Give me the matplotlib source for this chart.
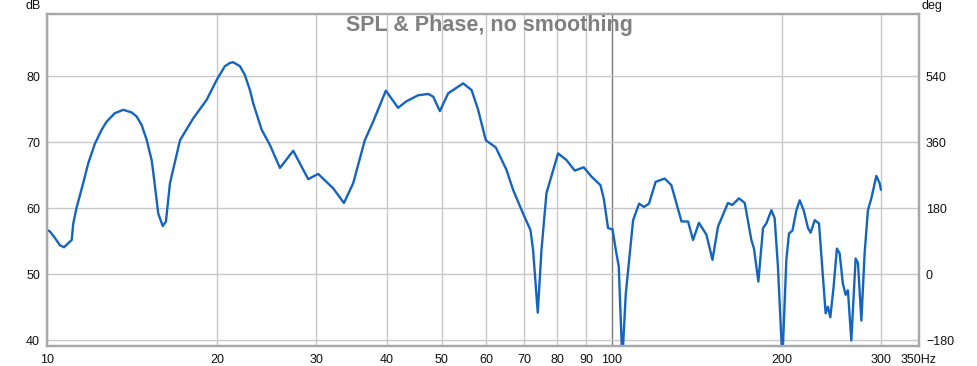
import numpy as np
import matplotlib
matplotlib.use("Agg")
import matplotlib.pyplot as plt
from matplotlib.ticker import FixedLocator, FixedFormatter, NullLocator

# SPL trace (Hz, dB)
freq = [10.0, 10.12, 10.33, 10.54, 10.72, 10.9, 11.06, 11.13, 11.29, 11.59,
        11.83, 12.16, 12.5, 12.75, 13.19, 13.65, 14.12, 14.41, 14.71, 15.02,
        15.32, 15.43, 15.74, 16.03, 16.24, 16.51, 17.20, 18.15, 19.17, 19.97,
        20.65, 21.09, 21.37, 21.96, 22.40, 22.87, 23.18, 23.99, 24.81, 25.85,
        27.29, 29.01, 30.21, 32.13, 33.56, 34.85, 36.54, 37.80, 39.81, 41.85,
        43.31, 45.41, 47.31, 48.28, 49.62, 51.33, 54.56, 56.46, 58.00, 59.84,
        62.33, 65.11, 66.88, 69.66, 71.79, 72.56, 73.96, 75.09, 76.63, 80.35,
        83.14, 86.00, 89.21, 92.06, 95.50, 96.78, 98.51, 100.3, 101.9, 102.9,
        104.4, 105.9, 109.1, 111.8, 114.0, 116.4, 119.6, 124.1, 127.5, 132.9,
        136.5, 139.3, 142.7, 147.1, 150.8, 154.2, 160.6, 163.5, 168.0, 172.0,
        176.7, 178.6, 181.8, 185.3, 187.8, 191.7, 194.3, 196.9, 200.5, 203.8,
        206.0, 208.9, 212.3, 215.2, 218.7, 222.6, 225.0, 228.8, 232.8, 239.2,
        241.4, 243.8, 247.1, 250.4, 253.2, 256.6, 259.5, 261.9, 265.6, 270.3,
        272.9, 276.7, 280.4, 284.2, 288.2, 294.1, 298.1, 299.7]
spl = [56.7, 56.5, 55.5, 54.4, 54.1, 54.7, 55.2, 57.7, 60.2, 63.8,
       66.8, 69.8, 71.9, 73.1, 74.4, 74.9, 74.5, 73.9, 72.6, 70.3,
       67.3, 65.3, 59.2, 57.3, 58.0, 63.8, 70.3, 73.6, 76.4, 79.4,
       81.5, 82.0, 82.1, 81.5, 80.2, 77.9, 75.9, 71.9, 69.6, 66.1,
       68.7, 64.4, 65.2, 63.0, 60.8, 63.8, 70.3, 73.1, 77.8, 75.2,
       76.2, 77.1, 77.3, 76.9, 74.7, 77.4, 78.9, 77.9, 74.9, 70.3,
       69.2, 65.8, 62.8, 59.2, 56.7, 53.7, 44.2, 53.7, 62.3, 68.3,
       67.3, 65.7, 66.2, 64.8, 63.5, 61.5, 57.0, 56.8, 53.2, 51.2,
       37.0, 47.1, 58.2, 60.7, 60.2, 60.7, 64.0, 64.5, 63.5, 58.0,
       58.0, 55.2, 57.8, 56.0, 52.2, 57.2, 60.8, 60.5, 61.5, 60.8,
       55.2, 53.9, 48.9, 57.0, 57.7, 59.7, 58.5, 51.2, 37.0, 52.2,
       56.2, 56.6, 59.7, 61.2, 59.7, 57.0, 56.3, 58.2, 57.7, 44.1,
       45.1, 43.5, 48.1, 53.9, 53.2, 48.6, 46.9, 47.6, 40.0, 52.4,
       51.7, 43.0, 53.2, 59.7, 61.5, 64.9, 63.8, 62.8]

x_ticks = [10, 20, 30, 40, 50, 60, 70, 80, 90, 100, 200, 300, 350]
x_labels = ["10", "20", "30", "40", "50", "60", "70", "80", "90", "100", "200", "300", "350Hz"]
db_ticks = [40, 50, 60, 70, 80]
deg_ticks = [-180, 0, 180, 360, 540]

plt.rcParams['font.family'] = ['Liberation Sans', 'DejaVu Sans']

fig = plt.figure(figsize=(9.77, 3.66), dpi=100)
ax = fig.add_axes([47/977, 1 - 345.7/366, 872/977, 331.7/366])

db_lim = (39.2, 89.4)
ax.set_xscale("log")
ax.set_xlim(10, 350)
ax.set_ylim(*db_lim)

ax.xaxis.set_major_locator(FixedLocator(x_ticks))
ax.xaxis.set_major_formatter(FixedFormatter(x_labels))
ax.xaxis.set_minor_locator(NullLocator())
ax.set_yticks(db_ticks)

for f in x_ticks[:-1]:
    ax.axvline(f, color="#7a7a7a" if f == 100 else "#c8c8c8", lw=1.0, zorder=1)
for d in db_ticks:
    ax.axhline(d, color="#c8c8c8", lw=1.0, zorder=1)

ax.plot(freq, spl, color="#1565c0", lw=1.7, zorder=3,
        solid_joinstyle="round", solid_capstyle="round")

ax.tick_params(axis="both", length=0, labelsize=9, colors="#111111")
ax.tick_params(axis="x", pad=6)
ax.tick_params(axis="y", pad=5)

# phase axis on the right shares the dB scale: deg = (dB - 50) * 18
ax2 = ax.twinx()
ax2.set_ylim((db_lim[0] - 50) * 18, (db_lim[1] - 50) * 18)
ax2.set_yticks(deg_ticks)
ax2.tick_params(axis="y", length=0, labelsize=9, pad=5, colors="#111111")

for a in (ax, ax2):
    for s in a.spines.values():
        s.set_color("#a8a8a8")
        s.set_linewidth(1.6)

fig.text(41/977, 1 - 6/366, "dB", ha="right", va="center", fontsize=9, color="#111111")
fig.text(922/977, 1 - 6/366, "deg", ha="left", va="center", fontsize=9, color="#111111")
fig.text(489/977, 1 - 26/366, "SPL & Phase, no smoothing", ha="center", va="center",
         fontsize=15.5, fontweight="bold", color="#808080")

fig.savefig("out.png", dpi=100)
